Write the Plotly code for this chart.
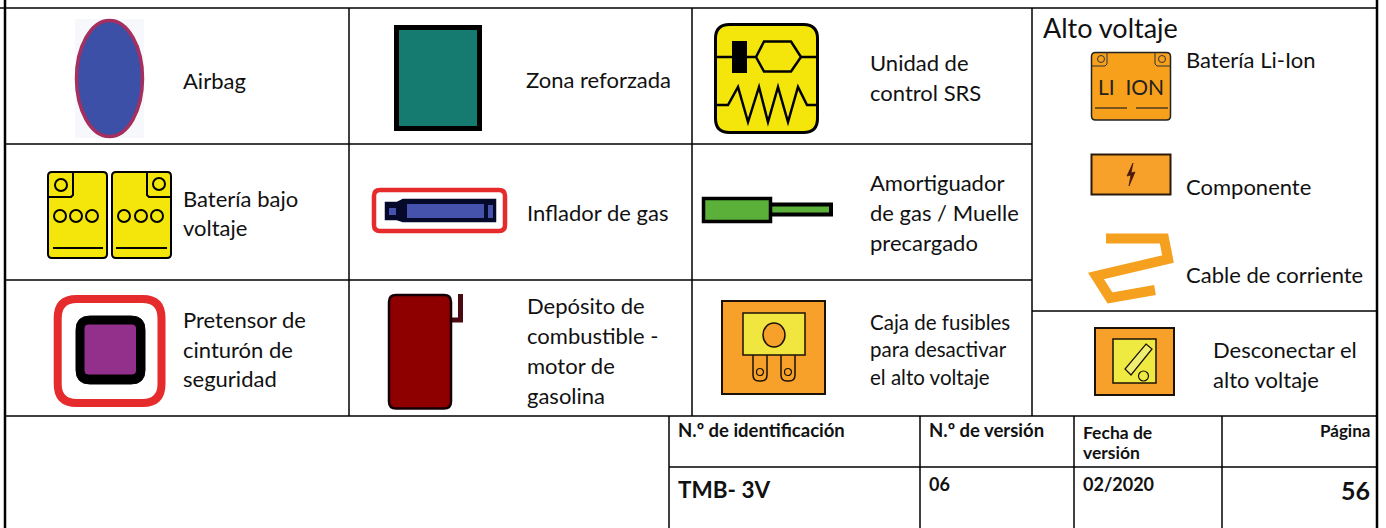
import plotly.graph_objects as go

# ---- text content ----
legend_labels = ["Airbag", "Zona reforzada", "Unidad de", "control SRS",
                 "Batería bajo", "voltaje", "Inflador de gas",
                 "Amortiguador", "de gas / Muelle", "precargado",
                 "Pretensor de", "cinturón de", "seguridad",
                 "Depósito de", "combustible -", "motor de", "gasolina",
                 "Batería Li-Ion", "Componente", "Cable de corriente",
                 "Desconectar el", "alto voltaje"]
fuse_labels = ["Caja de fusibles", "para desactivar", "el alto voltaje"]
group_title = "Alto voltaje"
footer_heads = ["N.º de identificación", "N.º de versión", "Fecha de", "versión", "Página"]
footer_values = ["TMB- 3V", "06", "02/2020", "56"]

# ---- layout geometry (pixel coordinates of the page) ----
label_xy = [(182, 80), (525, 79), (869, 62), (869, 92),
            (182, 198), (182, 227), (526, 212),
            (869, 182), (869, 212), (869, 242),
            (182, 319), (182, 349), (182, 378),
            (526, 305), (526, 335), (526, 365), (526, 395),
            (1185, 59), (1185, 186), (1185, 274),
            (1212, 349), (1212, 379)]
fuse_xy = [(869, 322), (869, 349), (869, 377)]

BLACK = "#000000"
YELLOW = "#f4e60a"
ORANGE = "#f7a02a"
RED = "#e52b2b"
shapes = []


def line(pts, color=BLACK, w=1.5, closed=False, fill=None):
    p = "M " + " L ".join(f"{x},{y}" for x, y in pts) + (" Z" if closed else "")
    s = dict(type="path", path=p, line=dict(color=color, width=w))
    if fill:
        s["fillcolor"] = fill
    shapes.append(s)


def rect(x0, y0, x1, y1, fill=None, color=BLACK, w=1.5):
    shapes.append(dict(type="rect", x0=x0, y0=y0, x1=x1, y1=y1,
                       fillcolor=fill or "rgba(0,0,0,0)",
                       line=dict(color=color, width=w)))


def rrect(x0, y0, x1, y1, r, fill=None, color=BLACK, w=1.5):
    p = (f"M {x0+r},{y0} L {x1-r},{y0} Q {x1},{y0} {x1},{y0+r} L {x1},{y1-r} "
         f"Q {x1},{y1} {x1-r},{y1} L {x0+r},{y1} Q {x0},{y1} {x0},{y1-r} "
         f"L {x0},{y0+r} Q {x0},{y0} {x0+r},{y0} Z")
    shapes.append(dict(type="path", path=p, fillcolor=fill or "rgba(0,0,0,0)",
                       line=dict(color=color, width=w)))


def circ(cx, cy, r, fill=None, color=BLACK, w=1.5, ry=None):
    ry = ry or r
    shapes.append(dict(type="circle", x0=cx-r, x1=cx+r, y0=cy-ry, y1=cy+ry,
                       fillcolor=fill or "rgba(0,0,0,0)",
                       line=dict(color=color, width=w)))


# ---- table grid ----
grid = [((0, 8), (1378, 8), 1.5), ((5, 144), (1032, 144), 1.5),
        ((5, 280), (1032, 280), 1.5), ((5, 416), (1377, 416), 1.5),
        ((1032, 311), (1377, 311), 1.5), ((669, 467), (1377, 467), 1.5),
        ((5, 0), (5, 528), 2.5), ((1377, 0), (1377, 528), 2.5),
        ((349, 8), (349, 416), 1.5), ((692, 8), (692, 416), 1.5),
        ((1032, 8), (1032, 416), 1.5), ((669, 416), (669, 528), 1.5),
        ((920, 416), (920, 528), 1.5), ((1074, 416), (1074, 528), 1.5),
        ((1222, 416), (1222, 528), 1.5)]
for a, b, w in grid:
    line([a, b], w=w)

# ---- Airbag ----
rect(75, 19, 144, 138, fill="#f6f8fb", color="rgba(0,0,0,0)", w=0)
shapes.append(dict(type="circle", x0=76.5, x1=142.5, y0=20.5, y1=136.5,
                   fillcolor="#3b50a6", line=dict(color="#a5305f", width=3.5)))

# ---- Low-voltage battery ----
rrect(48, 172, 107, 258, 4, fill=YELLOW, w=2)
rrect(112, 172, 171, 258, 4, fill=YELLOW, w=2)
line([(48, 197), (71, 197), (73, 195), (73, 172)], w=2)
line([(171, 197), (149, 197), (147, 195), (147, 172)], w=2)
for cx, cy in [(61, 185), (159, 184), (60, 216), (76, 216), (92, 216),
               (124, 216), (141, 216), (157, 216)]:
    circ(cx, cy, 6, w=2)
line([(53, 248), (103, 248)], w=2)
line([(116, 248), (167, 248)], w=2)

# ---- Reinforced zone ----
rect(396.5, 27.5, 479.5, 128.5, fill="#157a70", w=5)

# ---- Gas inflator ----
rrect(374, 190, 505, 231, 6, fill="#ffffff", color=RED, w=4.5)
line([(386, 203), (397, 203), (403, 200), (495, 200), (495, 221), (403, 221),
      (397, 219), (386, 219)], color="#060a2a", w=2.5, closed=True, fill="#060a2a")
rect(389, 208, 396, 215, fill="#4553ad", color="#4553ad", w=0)
rect(407, 204, 484, 218, fill="#4553ad", color="#4553ad", w=0)
rect(488, 205, 493, 218, fill="#4553ad", color="#4553ad", w=0)

# ---- SRS control unit ----
rrect(715.5, 24.5, 817.5, 132.5, 14, fill=YELLOW, w=3)
line([(715, 57), (732, 57)], w=2.5)
rect(733, 42, 746, 72, fill=BLACK, w=2)
line([(747, 57), (756, 57), (764, 41.5), (791, 41.5), (801, 57), (791, 71.5),
      (764, 71.5), (756, 57)], w=2.5)
line([(801, 57), (818, 57)], w=2.5)
line([(715, 105), (728, 105), (738, 87), (748, 122), (759, 87), (768, 122),
      (778, 87), (788, 122), (798, 87), (807, 105), (818, 105)], w=2.5)

# ---- Gas damper ----
rect(770, 204.5, 831, 214.5, fill="#5ab038", w=4)
rect(703.5, 198.5, 770.5, 221.5, fill="#5ab038", w=3.5)

# ---- Li-Ion battery ----
rrect(1091.5, 52.5, 1170.5, 120, 4, fill="#f7a01c", color="#222222", w=1.5)
line([(1091.5, 66), (1105, 66), (1107, 64), (1107, 52.5)], color="#333333", w=1)
line([(1170.5, 66), (1157, 66), (1155, 64), (1155, 52.5)], color="#333333", w=1)
circ(1101, 59, 3.5, color="#333333", w=1)
circ(1162, 59, 3.5, color="#333333", w=1)
line([(1095, 108), (1127, 108)], w=1.2, color="#222222")
line([(1136, 108), (1168, 108)], w=1.2, color="#222222")

# ---- Component ----
rect(1091.5, 154.5, 1170.5, 194.5, fill=ORANGE, color="#2a1a0a", w=2)
line([(1133, 163), (1127, 176), (1131, 175), (1129, 186), (1135, 172), (1131, 173)],
     color="#4a1a10", w=0.8, closed=True, fill="#4a1a10")

# ---- Power cable ----
line([(1106, 238.5), (1164, 238.5), (1168, 259), (1096, 276), (1110, 298), (1155, 290)],
     color="#f5a01e", w=10)

# ---- Belt pretensioner ----
rrect(57.7, 299, 161.5, 403, 19, fill="#ffffff", color=RED, w=8)
rrect(76, 316, 145, 384, 14, fill=BLACK, w=1)
rrect(85, 325, 135.5, 374, 3, fill="#93308c", color="#93308c", w=1)

# ---- Fuel tank ----
line([(450, 320), (460.5, 320), (460.5, 294)], color="#4a0a12", w=5)
rrect(389, 295, 451, 408.5, 7, fill="#8e0000", color="#140004", w=2.5)

# ---- Fuse box ----
rect(722, 301, 825, 394, fill=ORANGE, color="#1a1208", w=2)
rrect(753, 345, 767, 381, 6, fill=ORANGE, color="#1a1208", w=1.5)
rrect(781, 345, 795, 381, 6, fill=ORANGE, color="#1a1208", w=1.5)
rect(743, 313, 805, 355, fill="#f1e640", color="#1a1208", w=1.5)
circ(774, 335, 11, fill=ORANGE, color="#1a1208", w=1.5, ry=12)
circ(760, 372, 3.5, color="#1a1208", w=1.2)
circ(788, 372, 3.5, color="#1a1208", w=1.2)

# ---- Disconnect ----
rect(1095, 328, 1174, 395, fill=ORANGE, color="#1a1208", w=2)
rect(1113, 339, 1156, 383, fill="#eeea42", color="#1a1208", w=1.5)
line([(1146, 344), (1152, 349), (1131, 375), (1125, 369)], color="#1a1208", w=1.2,
     closed=True, fill="#f0ee70")
circ(1143.5, 376, 5, color="#1a1208", w=1.2)

# ---- Text ----
FONT = "Lato"
INK = "#111111"
anns = []


def text(x, y, s, size=22, bold=False, anchor="left", color=INK):
    anns.append(dict(x=x, y=y, xref="x", yref="y", text=f"<b>{s}</b>" if bold else s,
                     showarrow=False, xanchor=anchor, yanchor="middle", borderpad=0,
                     font=dict(family=FONT, size=size, color=color)))


for (x, y), s in zip(label_xy, legend_labels):
    text(x, y, s)
for (x, y), s in zip(fuse_xy, fuse_labels):
    text(x, y, s, size=20.5)
text(1042, 27, group_title, size=27)
text(1131, 86, "LI\u00a0\u00a0ION", size=21, anchor="center", color="#222222")
for x, y, s, sz, anc in zip([677, 928, 1082, 1082, 1371], [430, 430, 432, 452, 430],
                            footer_heads, [18.5, 18.5, 17.5, 17.5, 17],
                            ["left"] * 4 + ["right"]):
    text(x, y, s, size=sz, bold=True, anchor=anc)
text(677, 489, footer_values[0], size=22.5, bold=True)
text(928, 484, footer_values[1], size=18, bold=True)
text(1082, 484, footer_values[2], size=18, bold=True)
text(1371, 490, footer_values[3], size=25, bold=True, anchor="right")

fig = go.Figure()
fig.update_layout(
    width=1386, height=528, margin=dict(l=0, r=0, t=0, b=0),
    paper_bgcolor="#ffffff", plot_bgcolor="#ffffff", showlegend=False,
    xaxis=dict(range=[0, 1386], visible=False, fixedrange=True),
    yaxis=dict(range=[528, 0], visible=False, fixedrange=True),
    shapes=shapes, annotations=anns,
)
fig.write_html("out.html", config={"displayModeBar": False},
               post_script="document.body.style.margin='0';document.body.style.overflow='hidden';")
